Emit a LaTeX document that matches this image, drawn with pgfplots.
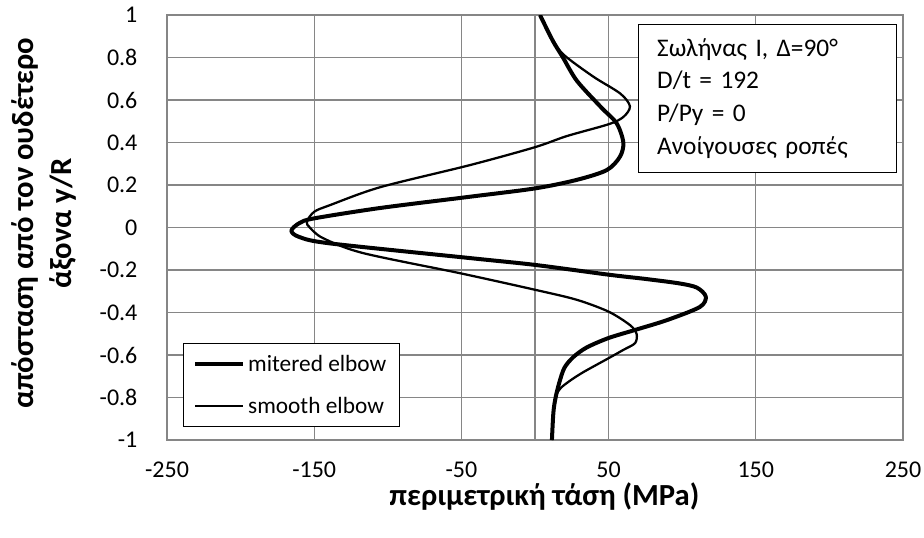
\documentclass[border=0pt]{standalone}
\usepackage{fontspec}
\setmainfont{Carlito}
\usepackage{pgfplots}
\pgfplotsset{compat=1.18}
\definecolor{gridgray}{RGB}{134,134,134}
\begin{document}
\begin{tikzpicture}
\useasboundingbox (-125.25pt,-72.75pt) rectangle (567.75pt,330pt);
\begin{axis}[
  scale only axis, width=552pt, height=318.75pt,
  at={(0pt,0pt)}, anchor=south west,
  xmin=-250, xmax=250, ymin=-1, ymax=1,
  xtick={-250,-150,-50,50,150,250},
  xticklabels={-250,-150,-50,50,150,250},
  ytick={-1,-0.8,-0.6,-0.4,-0.2,0,0.2,0.4,0.6,0.8,1},
  yticklabels={-1,-0.8,-0.6,-0.4,-0.2,0,0.2,0.4,0.6,0.8,1},
  extra x ticks={0}, extra x tick labels={}, extra x tick style={grid=major},
  grid=major,
  major grid style={gridgray, line width=0.9pt},
  axis line style={gridgray, line width=0.9pt},
  tick style={draw=none},
  ticklabel style={font=\fontsize{18}{21}\selectfont},
  xticklabel style={inner sep=0pt, anchor=north, yshift=-16.5pt},
  yticklabel style={inner sep=0pt, anchor=east, xshift=-22pt},
  xlabel={περιμετρική τάση (MPa)},
  xlabel style={at={(axis description cs:0.5,0)}, anchor=base, yshift=-49pt, xshift=7pt, font=\bfseries\fontsize{23}{27}\selectfont},
  ylabel={απόσταση από τον ουδέτερο\\άξονα y/R},
  ylabel style={at={(axis description cs:0,0.5)}, anchor=center, yshift=92pt, xshift=3pt, align=center, font=\bfseries\fontsize{23}{28.5}\selectfont},
  legend style={at={(0.0217,0.0306)}, anchor=south west, draw=black, line width=0.75pt, fill=white,
    font=\fontsize{17.5}{20}\selectfont, row sep=13.75pt, inner xsep=7.5pt, inner ysep=6.5pt},
  legend cell align=left,
  legend image code/.code={\draw[#1] (0pt,0pt) -- (36pt,0pt);},
]
\addplot[black, line width=3pt, smooth, line join=round] coordinates {
(3.4,1.0) (12,0.88) (19,0.80) (28.5,0.69) (45,0.565) (55.5,0.49) (60,0.40) (57.7,0.333) (48.7,0.27) (28.3,0.224) (0,0.184) (-44,0.145) (-105,0.092) (-150,0.043) (-160,0.021) (-165.5,-0.015) (-160,-0.045) (-139,-0.075) (-44,-0.144) (0,-0.176) (50,-0.222) (75,-0.242) (98,-0.263) (110,-0.283) (116,-0.325) (112,-0.374) (90,-0.435) (69,-0.48) (50,-0.52) (35,-0.565) (26,-0.61) (20,-0.66) (16.5,-0.73) (14,-0.8) (12.5,-0.87) (11.5,-1.0)
};
\addlegendentry{mitered elbow}
\addplot[black, line width=1.7pt, smooth, line join=round] coordinates {
(3.4,1.0) (12,0.88) (20,0.81) (39.6,0.71) (58,0.63) (64.5,0.57) (60,0.52) (50,0.486) (21.5,0.43) (0,0.378) (-44,0.294) (-105,0.19) (-139,0.106) (-150,0.074) (-155,0.027) (-153,0.0) (-144,-0.05) (-117,-0.12) (-51,-0.215) (0,-0.293) (28.3,-0.34) (50,-0.396) (64.5,-0.459) (69,-0.5) (68,-0.544) (60,-0.576) (50,-0.615) (33,-0.68) (24,-0.72) (17.5,-0.755) (14.6,-0.785) (14,-0.8) (12.5,-0.87) (11.5,-1.0)
};
\addlegendentry{smooth elbow}
\node[draw=black, line width=0.75pt, fill=white, anchor=north west, align=left,
  text width=165.5pt, inner xsep=14pt, minimum height=111pt,
  font=\fontsize{19}{24.5}\selectfont] at (rel axis cs:0.64,0.979)
  {Σωλήνας Ι, Δ=90°\\D/t = 192\\P/Py = 0\\Ανοίγουσες ροπές};
\end{axis}
\end{tikzpicture}
\end{document}
